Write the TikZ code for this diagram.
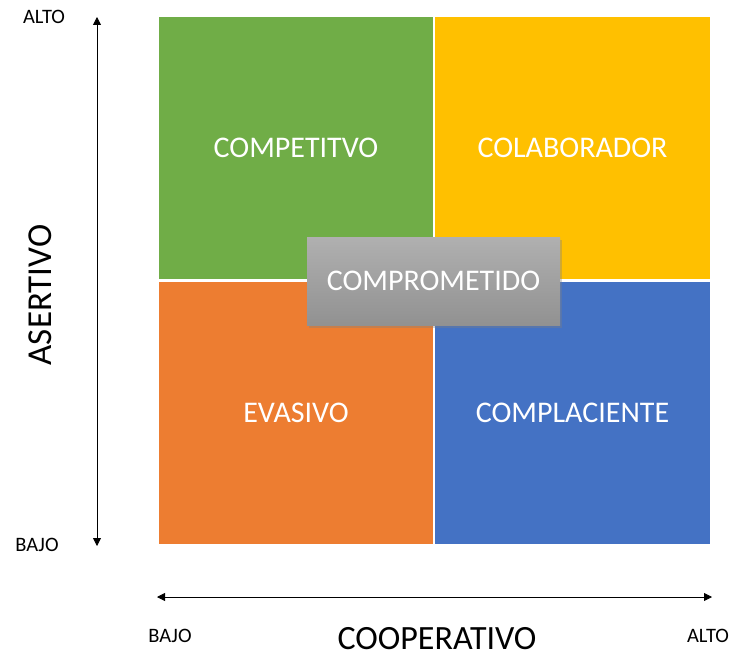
\documentclass[tikz,border=0pt]{standalone}
\usepackage{fontspec}
\setmainfont{Carlito}
\usepackage{tikz}
\usetikzlibrary{shadows,arrows.meta}
\usepackage{xcolor}

\definecolor{verde}{HTML}{70AD47}
\definecolor{amarillo}{HTML}{FFC000}
\definecolor{naranja}{HTML}{ED7D31}
\definecolor{azul}{HTML}{4472C4}

\tikzset{
    cuadro/.style={minimum width=274pt, minimum height=262pt, inner sep=0pt,
        text=white, font=\fontsize{30}{32}\selectfont},
    etiqueta/.style={font=\fontsize{20.5}{22}\selectfont},
    eje/.style={{Triangle[length=8pt,width=8pt]}-{Triangle[length=8pt,width=8pt]}, line width=0.8pt}
}

\begin{document}
\begin{tikzpicture}[x=1pt,y=-1pt]
        \useasboundingbox (0,0) rectangle (733,658);
        %\draw[gray] (0,0) grid (733,658);

        \node[cuadro, fill=verde] (competitivo) at (296,148) {COMPETITVO};
        \node[cuadro, fill=amarillo, minimum width=275pt] (colaborador) at (572.5,148) {COLABORADOR};
        \node[cuadro, fill=naranja] (evasivo) at (296,413) {EVASIVO};
        \node[cuadro, fill=azul, minimum width=275pt] (complaciente) at (572.5,413) {COMPLACIENTE};

        \node[minimum width=253pt, minimum height=88pt, inner sep=0pt,
            top color=black!31, bottom color=black!43, text=white,
            drop shadow={shadow xshift=2pt, shadow yshift=-3pt, opacity=0.35},
            font=\fontsize{30}{32}\selectfont] (comprometido) at (433.5,281) {COMPROMETIDO};

        % ejes
        \coordinate (vA) at (97,17);
        \coordinate (vB) at (97,546);
        \draw[eje] (vB) -- (vA);
        \coordinate (hA) at (157,597);
        \coordinate (hB) at (712,597);
        \draw[eje] (hA) -- (hB);

        \node[etiqueta] (altoV) at (44,17) {ALTO};
        \node[etiqueta] (bajoV) at (37,545) {BAJO};
        \node[rotate=90, font=\fontsize{35}{38}\selectfont] (asertivo) at (40,295) {ASERTIVO};

        \node[etiqueta] (bajoH) at (170,636) {BAJO};
        \node[etiqueta] (altoH) at (708,636) {ALTO};
        \node[font=\fontsize{34}{36}\selectfont, inner sep=1pt] (cooperativo) at (437,639) {COOPERATIVO};
    \end{tikzpicture}
\end{document}
